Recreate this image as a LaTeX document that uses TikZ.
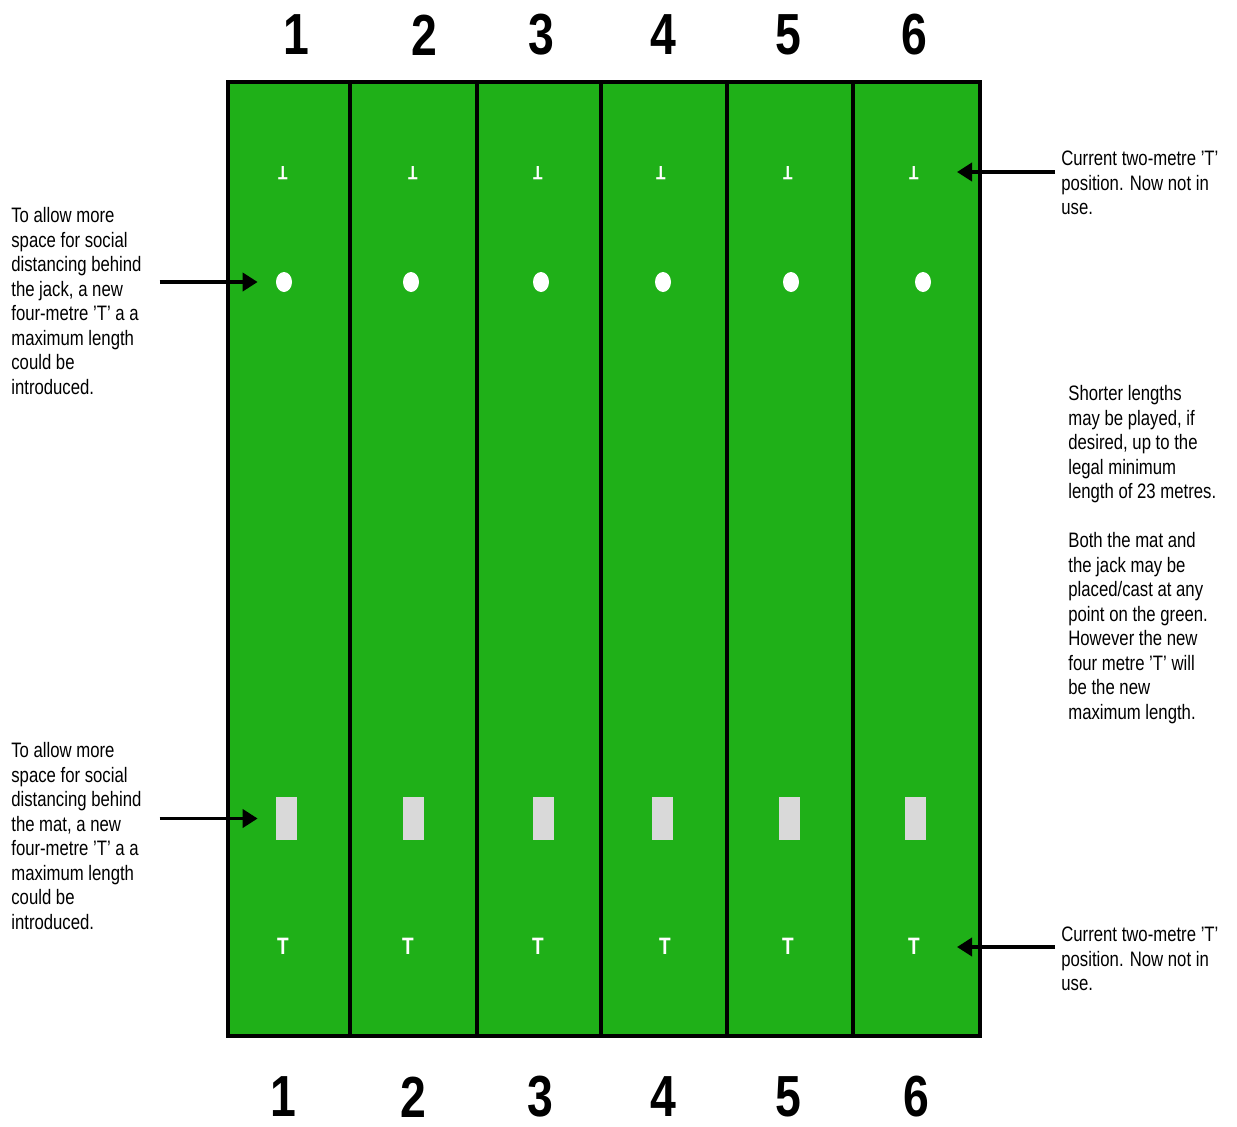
\documentclass[tikz,border=0pt]{standalone}
\usepackage{fontspec}
\usetikzlibrary{arrows.meta, calc, shapes.geometric}
\newfontfamily\labelfont[FakeStretch=0.8]{Liberation Sans}
\definecolor{turf}{RGB}{31,176,24}
\definecolor{matgrey}{RGB}{217,217,217}

\begin{document}
\begin{tikzpicture}[
    x=0.02cm, y=-0.02cm,
    rink/.style={draw=black, line width=2pt, fill=turf},
    num/.style={font=\labelfont\bfseries\fontsize{33}{33}\selectfont, inner sep=0pt},
    note/.style={anchor=north west, align=left, inner sep=0pt, font=\labelfont\fontsize{11.9}{13.95}\selectfont},
    jack/.style={ellipse, fill=white, minimum width=0.32cm, minimum height=0.4cm, inner sep=0pt},
    mat/.style={rectangle, fill=matgrey, minimum width=0.42cm, minimum height=0.86cm, inner sep=0pt},
    tee/.style={text=white, inner sep=0pt, font=\labelfont\bfseries\fontsize{13.5}{13.5}\selectfont},
    oldtee/.style={text=white, inner sep=0pt, font=\labelfont\bfseries\fontsize{11}{11}\selectfont, rotate=180},
    arrow/.style={-{Triangle[length=0.3cm, width=0.36cm]}, line width=2.1pt}
]
\useasboundingbox (0,0) rectangle (1237,1126);

% Green and rinks
\draw[rink] (228,82) rectangle (980,1036);
\foreach \x in {350, 477, 601, 727, 853}
    \draw[line width=2pt] (\x,82) -- (\x,1036);

% Rink numbers
\foreach \i/\x in {1/296, 2/424, 3/541, 4/663, 5/788, 6/914}
    \node[num] (n\i) at (\x,35) {\i};
\foreach \i/\x in {1/283, 2/413, 3/540, 4/663, 5/788, 6/916}
    \node[num] (b\i) at (\x,1097) {\i};

% Markings on each rink
\foreach \i/\x in {1/283, 2/413, 3/538, 4/661, 5/788, 6/914}
    \node[oldtee] (t\i) at (\x,173.5) {T};
\foreach \i/\x in {1/284, 2/411, 3/541, 4/663, 5/791, 6/923}
    \node[jack] (j\i) at (\x,282) {};
\foreach \i/\x in {1/286, 2/413, 3/543, 4/662, 5/789, 6/915}
    \node[mat] (m\i) at (\x,818.5) {};
\foreach \i/\x in {1/283, 2/408, 3/538, 4/665, 5/788, 6/914}
    \node[tee] (tb\i) at (\x,946) {T};

% Notes
\node[note] (jacknote) at (11,207) {To allow more\\space for social\\distancing behind\\the jack, a new\\four-metre ’T’ a a\\maximum length\\could be\\introduced.};
\node[note] (matnote) at (11,742) {To allow more\\space for social\\distancing behind\\the mat, a new\\four-metre ’T’ a a\\maximum length\\could be\\introduced.};
\node[note] (topnote) at (1061,151) {Current two-metre ’T’\\position. Now not in\\use.};
\node[note] (midnote) at (1068,385) {Shorter lengths\\may be played, if\\desired, up to the\\legal minimum\\length of 23 metres.\\[13.95pt]Both the mat and\\the jack may be\\placed/cast at any\\point on the green.\\However the new\\four metre ’T’ will\\be the new\\maximum length.};
\node[note] (botnote) at (1061,927) {Current two-metre ’T’\\position. Now not in\\use.};

% Arrows
\draw[arrow] ($(j1.west)+(-116,0)$) -- ($(j1.west)+(-18,0)$);
\draw[arrow] ($(m1.west)+(-115.5,0)$) -- ($(m1.west)+(-17.5,0)$);
\draw[arrow] ($(t6.center)+(141,-1.5)$) -- ($(t6.center)+(43,-1.5)$);
\draw[arrow] ($(tb6.center)+(141,1)$) -- ($(tb6.center)+(43,1)$);

\end{tikzpicture}
\end{document}
